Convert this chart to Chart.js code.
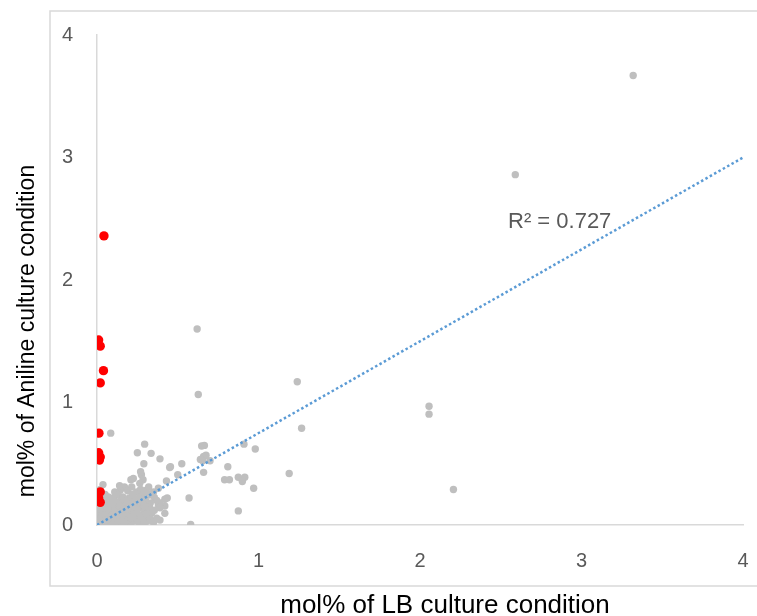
<!DOCTYPE html>
<html>
<head>
<meta charset="utf-8">
<script src="https://cdn.jsdelivr.net/npm/chart.js@4.4.1/dist/chart.umd.min.js"></script>
<style>
  html, body { margin: 0; padding: 0; background: #ffffff; }
  #wrap { position: relative; width: 757px; height: 616px; overflow: hidden; }
  canvas { display: block; }
</style>
</head>
<body>
<div id="wrap"><canvas id="c" width="757" height="616"></canvas></div>
<script>
// ---- Data ----
const xTitle = 'mol% of LB culture condition';
const yTitle = 'mol% of Aniline culture condition';
const tickValues = [0, 1, 2, 3, 4];
const r2Label = 'R² = 0.727';

// grey points: LB (x) vs Aniline (y)
const greyX = [
  3.32, 2.59, 0.62, 1.24, 0.627, 2.056, 2.056, 1.267, 2.207, 1.19, 0.98, 0.91, 0.97, 0.875, 0.58, 0.57,
  0.648, 0.665, 0.66, 0.675, 0.64, 0.655, 0.70, 0.66, 0.525, 0.50, 0.455, 0.81, 0.79, 0.82, 0.875, 0.915, 0.90,
  0.085, 0.295, 0.25, 0.335, 0.39, 0.29, 0.037, 0.275, 0.285, 0.265, 0.21, 0.17, 0.19, 0.145, 0.12, 0.07, 0.09,
  0.245, 0.305, 0.325, 0.355, 0.38, 0.42, 0.435, 0.325, 0.355, 0.295, 0.25, 0.21, 0.17, 0.13, 0.10, 0.058, 0.048,
  0.19, 0.23, 0.275, 0.315, 0.15, 0.11, 0.07, 0.037, 0.37, 0.39, 0.42, 0.39, 0.39, 0.31, 0.29, 0.235, 0.245,
  0.225, 0.19, 0.15, 0.33, 0.33, 0.37, 0.35, 0.27, 0.32, 0.215, 0.14, 0.11, 0.43, 0.38, 0.42, 0.45, 0.225, 0.27,
  0.02, 0.03, 0.05, 0.06, 0.08, 0.09, 0.12, 0.13, 0.14, 0.16, 0.17, 0.18, 0.20, 0.21, 0.22, 0.24, 0.26, 0.27,
  0.28, 0.30, 0.31, 0.34, 0.10, 0.08, 0.04, 0.03, 0.06, 0.15, 0.20, 0.12, 0.01, 0.015, 0.05, 0.10, 0.18, 0.24,
  0.28, 0.02, 0.07, 0.16, 0.11, 0.04, 0.08, 0.12, 0.26, 0.22, 0.19, 0.14, 0.25, 0.30, 0.29, 0.23, 0.05, 0.02, 0.02,
  0.03, 0.05, 0.07, 0.09, 0.11, 0.13, 0.15, 0.17, 0.19, 0.21, 0.23, 0.25, 0.27, 0.29, 0.31, 0.33, 0.35, 0.04,
  0.06, 0.08, 0.10, 0.13, 0.16, 0.18, 0.20, 0.22, 0.26, 0.29, 0.02, 0.01
];
const greyY = [
  3.67, 2.86, 1.60, 1.17, 1.065, 0.97, 0.905, 0.79, 0.29, 0.42, 0.62, 0.66, 0.30, 0.115, 0.005, 0.22,
  0.645, 0.65, 0.56, 0.57, 0.535, 0.525, 0.525, 0.43, 0.50, 0.41, 0.475, 0.475, 0.37, 0.37, 0.39, 0.39, 0.355,
  0.75, 0.66, 0.59, 0.585, 0.54, 0.50, 0.33, 0.41, 0.37, 0.34, 0.37, 0.31, 0.28, 0.285, 0.245, 0.23, 0.19,
  0.27, 0.285, 0.245, 0.225, 0.165, 0.155, 0.22, 0.15, 0.12, 0.11, 0.12, 0.145, 0.18, 0.135, 0.095, 0.12, 0.068,
  0.068, 0.055, 0.04, 0.068, 0.03, 0.015, 0.03, 0.015, 0.055, 0.04, 0.095, 0.18, 0.14, 0.14, 0.095, 0.11, 0.07,
  0.03, 0.00, 0.04, 0.25, 0.18, 0.20, 0.27, 0.29, 0.31, 0.31, 0.32, 0.27, 0.36, 0.30, 0.21, 0.47, 0.38, 0.435,
  0.02, 0.05, 0.03, 0.07, 0.05, 0.02, 0.06, 0.09, 0.01, 0.08, 0.05, 0.11, 0.09, 0.02, 0.13, 0.16, 0.08, 0.18,
  0.14, 0.20, 0.03, 0.10, 0.15, 0.12, 0.10, 0.17, 0.20, 0.20, 0.22, 0.19, 0.06, 0.10, 0.15, 0.06, 0.16, 0.21,
  0.24, 0.13, 0.09, 0.13, 0.11, 0.00, 0.00, 0.00, 0.00, 0.07, 0.04, 0.16, 0.04, 0.06, 0.16, 0.19, 0.25, 0.29, 0.20,
  0.08, 0.01, 0.13, 0.08, 0.04, 0.03, 0.11, 0.02, 0.13, 0.06, 0.10, 0.13, 0.06, 0.02, 0.09, 0.05, 0.02, 0.22,
  0.04, 0.17, 0.22, 0.25, 0.23, 0.20, 0.17, 0.25, 0.22, 0.27, 0.04, 0.15
];

// red points
const redX = [0.043, 0.01, 0.02, 0.04, 0.02, 0.012, 0.01, 0.02, 0.015, 0.02, 0.01, 0.02];
const redY = [2.36, 1.51, 1.46, 1.26, 1.16, 0.75, 0.59, 0.555, 0.53, 0.27, 0.22, 0.185];

// linear trendline end points
const trendX = [0, 4];
const trendY = [0.0, 3.0];

// ---- Build datasets ----
const toPts = (xs, ys) => xs.map((x, i) => ({ x: x, y: ys[i] }));
const FONT = '"Liberation Sans", Arial, sans-serif';

const framePlugin = {
  id: 'frame',
  beforeDraw(chart) {
    const ctx = chart.ctx;
    ctx.save();
    ctx.strokeStyle = '#d9d9d9';
    ctx.lineWidth = 1.5;
    ctx.beginPath();
    ctx.moveTo(760, 11); ctx.lineTo(50, 11); ctx.lineTo(50, 586); ctx.lineTo(760, 586);
    ctx.stroke();
    ctx.restore();
  },
  afterDatasetsDraw(chart) {
    const ctx = chart.ctx;
    const xs = chart.scales.x, ys = chart.scales.y;
    ctx.save();
    ctx.font = '22px ' + FONT;
    ctx.fillStyle = '#595959';
    ctx.textAlign = 'left';
    ctx.textBaseline = 'middle';
    ctx.fillText(r2Label, xs.getPixelForValue(2.545), ys.getPixelForValue(2.47));
    // axis titles
    ctx.fillStyle = '#000000';
    ctx.textAlign = 'center';
    ctx.font = '26px ' + FONT;
    ctx.fillText(xTitle, 445, 606);
    ctx.translate(28, 331);
    ctx.rotate(-Math.PI / 2);
    ctx.font = '23px ' + FONT;
    ctx.fillText(yTitle, 0, 0);
    ctx.restore();
  }
};

const tickFont = { family: FONT, size: 20 };

new Chart(document.getElementById('c'), {
  type: 'scatter',
  data: {
    datasets: [
      {
        label: 'red',
        data: toPts(redX, redY),
        backgroundColor: '#ff0000',
        borderColor: '#ff0000',
        pointRadius: 4.7,
        pointBorderWidth: 0,
        order: 0
      },
      {
        label: 'trend',
        type: 'line',
        data: toPts(trendX, trendY),
        borderColor: '#5b9bd5',
        borderWidth: 2.5,
        borderDash: [2.5, 2.5],
        pointRadius: 0,
        fill: false,
        order: 1
      },
      {
        label: 'grey',
        data: toPts(greyX, greyY),
        backgroundColor: '#bfbfbf',
        borderColor: '#bfbfbf',
        pointRadius: 3.7,
        pointBorderWidth: 0,
        order: 2
      }
    ]
  },
  options: {
    responsive: false,
    animation: false,
    devicePixelRatio: 1,
    layout: { padding: { left: 0, right: 14, top: 35, bottom: 0 } },
    plugins: { legend: { display: false }, tooltip: { enabled: false } },
    scales: {
      x: {
        type: 'linear',
        min: 0, max: 4,
        afterBuildTicks: (s) => { s.ticks = tickValues.map(v => ({ value: v })); },
        afterFit: (s) => { s.height = 91; s.paddingLeft = 0; s.paddingRight = 0; },
        grid: { display: false, drawTicks: false, tickLength: 0 },
        border: { display: true, color: '#d9d9d9', width: 1.5 },
        ticks: { color: '#595959', font: tickFont, padding: 24, maxRotation: 0 },
        title: { display: false }
      },
      y: {
        type: 'linear',
        min: 0, max: 4,
        afterBuildTicks: (s) => { s.ticks = tickValues.map(v => ({ value: v })); },
        afterFit: (s) => { s.width = 97; s.paddingTop = 0; s.paddingBottom = 0; },
        grid: { display: false, drawTicks: false, tickLength: 0 },
        border: { display: true, color: '#d9d9d9', width: 1.5 },
        ticks: { color: '#595959', font: tickFont, padding: 24 },
        title: { display: false }
      }
    }
  },
  plugins: [framePlugin]
});
</script>
</body>
</html>
